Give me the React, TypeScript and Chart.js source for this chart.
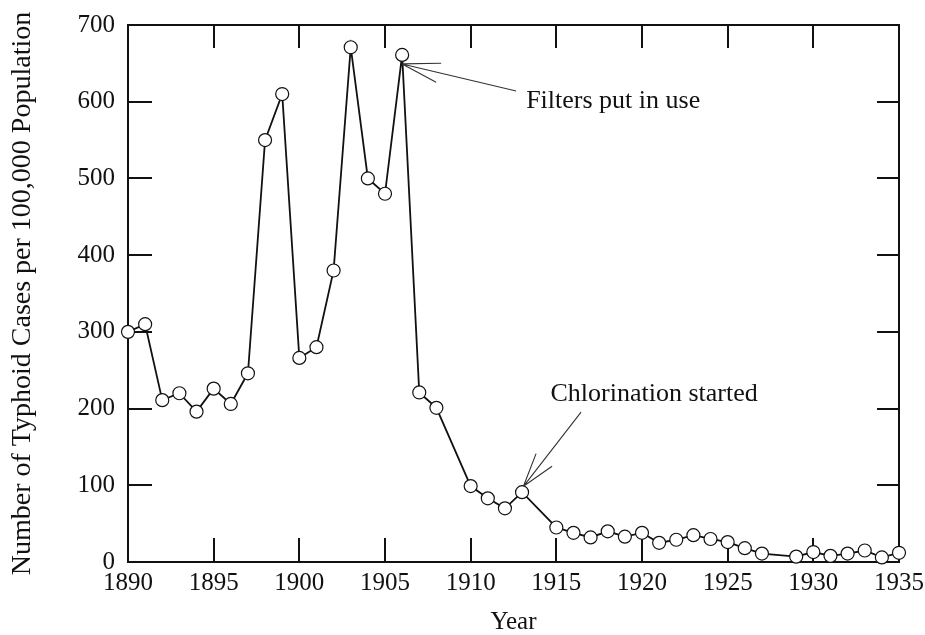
import React, { useEffect, useRef } from "react";
import { Chart, registerables } from "chart.js";

Chart.register(...registerables);

// ---- Data ----
const years = [
  1890, 1891, 1892, 1893, 1894, 1895, 1896, 1897, 1898, 1899,
  1900, 1901, 1902, 1903, 1904, 1905, 1906, 1907, 1908,
  1910, 1911, 1912, 1913,
  1915, 1916, 1917, 1918, 1919, 1920, 1921, 1922, 1923, 1924, 1925, 1926, 1927,
  1929, 1930, 1931, 1932, 1933, 1934, 1935,
];
const cases = [
  300, 310, 211, 220, 196, 226, 206, 246, 550, 610,
  266, 280, 380, 671, 500, 480, 661, 221, 201,
  99, 83, 70, 91,
  45, 38, 32, 40, 33, 38, 25, 29, 35, 30, 26, 18, 11,
  7, 13, 8, 11, 15, 6, 12,
];
const xTitle = "Year";
const yTitle = "Number of Typhoid Cases per 100,000 Population";
const annotationYears = [1906, 1913];
const annotationLabels = ["Filters put in use", "Chlorination started"];

// ---- Layout / style (pixel offsets from the annotated point) ----
const annotationGeometry = [
  { tip: [0, 9], tail: [114, 36], heads: [[39, 8.4], [34, 27.4]], text: [124, 53.4] },
  { tip: [1.4, -5.9], tail: [59, -80], heads: [[14, -38.6], [30, -26]], text: [28.4, -91.2] },
];

const FONT = "'Liberation Serif', 'Times New Roman', Times, serif";
const INK = "#111";

const annotationPlugin = {
  id: "arrowNotes",
  afterDatasetsDraw(chart: any) {
    const { ctx, scales } = chart;
    const xs = scales.x;
    const ys = scales.y;
    ctx.save();
    annotationYears.forEach((yr, i) => {
      const idx = years.indexOf(yr);
      const px = xs.getPixelForValue(yr);
      const py = ys.getPixelForValue(cases[idx]);
      const g = annotationGeometry[i];
      const tx = px + g.tip[0];
      const ty = py + g.tip[1];
      ctx.strokeStyle = "#333";
      ctx.lineWidth = 1.1;
      ctx.beginPath();
      ctx.moveTo(tx, ty);
      ctx.lineTo(px + g.tail[0], py + g.tail[1]);
      g.heads.forEach((h) => {
        ctx.moveTo(tx, ty);
        ctx.lineTo(px + h[0], py + h[1]);
      });
      ctx.stroke();
      ctx.fillStyle = INK;
      ctx.font = `26px ${FONT}`;
      ctx.textAlign = "left";
      ctx.textBaseline = "alphabetic";
      ctx.fillText(annotationLabels[i], px + g.text[0], py + g.text[1]);
    });
    ctx.restore();
  },
};

export default function App() {
  const canvasRef = useRef<HTMLCanvasElement | null>(null);

  useEffect(() => {
    const canvas = canvasRef.current;
    if (!canvas) return;
    const chart = new Chart(canvas, {
      type: "line",
      data: {
        datasets: [
          {
            data: years.map((yr, i) => ({ x: yr, y: cases[i] })),
            borderColor: INK,
            borderWidth: 1.8,
            pointRadius: 6.5,
            pointHoverRadius: 6.5,
            pointBackgroundColor: "#fff",
            pointBorderColor: INK,
            pointBorderWidth: 1.2,
            tension: 0,
            clip: false as any,
          },
        ],
      },
      options: {
        responsive: false,
        animation: false,
        devicePixelRatio: 1,
        layout: { padding: { left: 0, top: 25, right: 26, bottom: 0 } },
        plugins: {
          legend: { display: false },
          tooltip: { enabled: false },
          title: { display: false },
        },
        scales: {
          x: {
            type: "linear",
            position: "bottom",
            min: 1890,
            max: 1935,
            ticks: {
              stepSize: 5,
              color: INK,
              font: { family: FONT, size: 25 },
              padding: 30,
              maxRotation: 0,
              callback: (v: any) => String(v),
            },
            grid: {
              drawOnChartArea: false,
              drawTicks: true,
              tickLength: -24,
              color: INK,
              lineWidth: 2,
            },
            border: { display: true, color: INK, width: 2 },
            title: {
              display: true,
              text: xTitle,
              color: INK,
              font: { family: FONT, size: 25, lineHeight: 1 },
              padding: { top: 0, bottom: 0 },
            },
            afterFit: (s: any) => {
              s.height = 73;
              s.paddingLeft = 0;
              s.paddingRight = 0;
            },
          },
          x2: {
            type: "linear",
            position: "top",
            min: 1890,
            max: 1935,
            ticks: { stepSize: 5, display: false },
            grid: {
              drawOnChartArea: false,
              drawTicks: true,
              tickLength: -23,
              color: INK,
              lineWidth: 2,
            },
            border: { display: true, color: INK, width: 2 },
            afterFit: (s: any) => {
              s.height = 0;
              s.paddingLeft = 0;
              s.paddingRight = 0;
            },
          },
          y: {
            type: "linear",
            position: "left",
            min: 0,
            max: 700,
            ticks: {
              stepSize: 100,
              color: INK,
              font: { family: FONT, size: 25 },
              padding: 37,
            },
            grid: {
              drawOnChartArea: false,
              drawTicks: true,
              tickLength: -24,
              color: INK,
              lineWidth: 2,
            },
            border: { display: true, color: INK, width: 2 },
            title: {
              display: true,
              text: yTitle,
              color: INK,
              font: { family: FONT, size: 28 },
              padding: { top: 6, bottom: 0 },
            },
            afterFit: (s: any) => {
              s.width = 128;
              s.paddingTop = 0;
              s.paddingBottom = 0;
            },
          },
          y2: {
            type: "linear",
            position: "right",
            min: 0,
            max: 700,
            ticks: { stepSize: 100, display: false },
            grid: {
              drawOnChartArea: false,
              drawTicks: true,
              tickLength: -22,
              color: INK,
              lineWidth: 2,
            },
            border: { display: true, color: INK, width: 2 },
            afterFit: (s: any) => {
              s.width = 0;
              s.paddingTop = 0;
              s.paddingBottom = 0;
            },
          },
        },
      } as any,
      plugins: [annotationPlugin],
    });
    return () => chart.destroy();
  }, []);

  return (
    <div style={{ position: "absolute", left: 0, top: 0, width: 925, height: 635, background: "#fff" }}>
      <canvas ref={canvasRef} width={925} height={635} />
    </div>
  );
}
